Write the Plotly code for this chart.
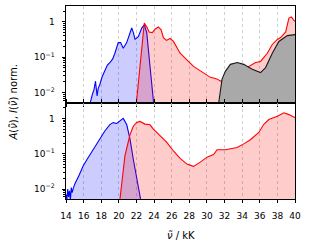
import plotly.graph_objects as go

# ---------------- data (wavenumber in kK, normalised intensities) -------------
top_blue_x = [16.72, 16.78, 17.0, 17.19, 17.35, 17.45, 17.53, 17.65, 17.84, 18.1, 18.41, 18.7, 18.98,
              19.3, 19.55, 19.75, 19.93, 20.20, 20.50, 20.89, 21.2, 21.46, 21.65, 21.84, 22.21, 22.60,
              22.89, 23.17, 23.54, 23.95]
top_blue_y = [0.004, 0.0055, 0.009, 0.0125, 0.021, 0.011, 0.008, 0.013, 0.017, 0.028, 0.041, 0.06, 0.07,
              0.09, 0.13, 0.19, 0.26, 0.26, 0.18, 0.26, 0.45, 0.67, 0.5, 0.32, 0.38, 0.67,
              0.83, 0.49, 0.055, 0.005]

top_red_x = [21.95, 22.89, 23.2, 23.43, 23.8, 24.1, 24.49, 24.8, 25.06, 25.4, 25.82, 26.2, 26.96, 27.73,
             28.1, 28.48, 28.9, 29.25, 29.6, 30.01, 30.39, 30.76, 31.2, 31.53, 32.09, 32.66, 33.43, 34.18,
             35.0, 35.32, 35.52, 36.09, 36.85, 37.42, 37.99, 38.37, 38.94, 39.31, 39.59, 39.88, 40.1]
top_red_y = [0.004, 0.93, 0.7, 0.52, 0.5, 0.62, 0.72, 0.6, 0.36, 0.3, 0.34, 0.28, 0.13, 0.087,
             0.068, 0.055, 0.047, 0.04, 0.036, 0.031, 0.027, 0.026, 0.024, 0.021, 0.025, 0.03, 0.035, 0.045,
             0.058, 0.063, 0.071, 0.076, 0.13, 0.23, 0.32, 0.36, 0.52, 1.28, 1.38, 1.1, 1.0]

top_gray_x = [31.33, 31.72, 32.09, 32.66, 33.43, 34.18, 35.14, 36.09, 36.66, 37.42, 38.17, 39.13, 40.1]
top_gray_y = [0.005, 0.024, 0.04, 0.063, 0.071, 0.063, 0.046, 0.037, 0.051, 0.13, 0.28, 0.41, 0.44]

bot_blue_x = [14.0, 14.1, 14.2, 14.3, 14.4, 14.5, 14.6, 14.7, 14.8, 15.0, 15.5, 15.94, 16.4, 16.9, 17.4,
              17.84, 18.41, 18.98, 19.36, 19.75, 20.12, 20.50, 20.89, 21.27, 21.64, 22.03, 22.48]
bot_blue_y = [0.007, 0.005, 0.01, 0.006, 0.009, 0.005, 0.011, 0.008, 0.01, 0.014, 0.025, 0.045, 0.07,
              0.11, 0.17, 0.25, 0.44, 0.67, 0.76, 0.72, 0.84, 1.0, 0.67, 0.26, 0.07, 0.019, 0.005]

bot_red_x = [20.12, 20.69, 21.27, 21.64, 22.03, 22.40, 22.97, 23.54, 23.92, 24.68, 25.45, 26.20, 26.96,
             27.73, 28.48, 29.25, 30.01, 30.76, 31.15, 32.09, 33.43, 34.18, 34.94, 35.89, 36.46, 37.03,
             37.99, 38.74, 39.31, 40.1]
bot_red_y = [0.005, 0.087, 0.35, 0.6, 0.77, 0.82, 0.69, 0.66, 0.5, 0.32, 0.21, 0.12, 0.074,
             0.051, 0.044, 0.058, 0.08, 0.095, 0.13, 0.13, 0.15, 0.19, 0.25, 0.40, 0.68, 0.93,
             1.15, 1.44, 1.28, 1.02]

x_ticks = [14, 16, 18, 20, 22, 24, 26, 28, 30, 32, 34, 36, 38, 40]
y_ticks = [0.01, 0.1, 1]
y_tick_text = ["10<sup>\u22122</sup>", "10<sup>\u22121</sup>", "1"]
y_minor = [m * 10.0 ** e for e in (-3, -2, -1, 0) for m in range(2, 10)]

BASE = 1e-5
FONT = "DejaVu Sans"

fig = go.Figure()


def add_area(x, y, fillcolor, linecolor, xa, ya):
    fig.add_trace(go.Scatter(
        x=[x[0]] + list(x) + [x[-1]], y=[BASE] + list(y) + [BASE],
        mode="lines", fill="toself", fillcolor=fillcolor,
        line=dict(width=0), xaxis=xa, yaxis=ya, hoverinfo="skip", showlegend=False))
    fig.add_trace(go.Scatter(
        x=x, y=y, mode="lines", line=dict(color=linecolor, width=1.1),
        xaxis=xa, yaxis=ya, showlegend=False))


BLUE_F = "rgba(0,0,255,0.2)"
RED_F = "rgba(255,0,0,0.2)"

add_area(top_blue_x, top_blue_y, BLUE_F, "#0000ff", "x", "y")
add_area(top_red_x, top_red_y, RED_F, "#ff0000", "x", "y")
add_area(top_gray_x, top_gray_y, "#a9a9a9", "#1a1a1a", "x", "y")

add_area(bot_blue_x, bot_blue_y, BLUE_F, "#0000ff", "x2", "y2")
add_area(bot_red_x, bot_red_y, RED_F, "#ff0000", "x2", "y2")

common_x = dict(range=[14, 40], tickvals=x_ticks, showgrid=True, gridcolor="#c4c4c4",
                griddash="dot", gridwidth=0.8, showline=True, linecolor="black", linewidth=1,
                ticks="outside", ticklen=3, tickcolor="black", zeroline=False,
                ticklabelstandoff=5,
                tickfont=dict(family=FONT, size=9, color="black"))
common_y = dict(type="log", range=[-2.28, 0.45], tickvals=y_ticks, ticktext=y_tick_text,
                showgrid=False, showline=True, linecolor="black", linewidth=1, mirror=True,
                ticks="outside", ticklen=3.5, tickcolor="black", zeroline=False,
                ticklabelstandoff=5,
                minor=dict(tickvals=y_minor, ticks="outside", ticklen=2, tickcolor="black"),
                tickfont=dict(family=FONT, size=9, color="black"))

fig.update_layout(
    width=330, height=249,
    margin=dict(l=66, r=35, t=6, b=50),
    paper_bgcolor="white", plot_bgcolor="white",
    font=dict(family=FONT, size=10, color="black"),
    xaxis=dict(**common_x, domain=[0, 1], anchor="y", showticklabels=False, mirror=True),
    yaxis=dict(**common_y, domain=[0.5, 1], anchor="x"),
    xaxis2=dict(**common_x, domain=[0, 1], anchor="y2", mirror="ticks", matches="x"),
    yaxis2=dict(**common_y, domain=[0, 0.5], anchor="x2"),
    annotations=[
        dict(text="<i>A</i>(<i>\u03bd\u0303</i>), <i>I</i>(<i>\u03bd\u0303</i>) norm.", textangle=-90,
             xref="paper", yref="paper", x=-0.231, y=0.5, xanchor="center", yanchor="middle",
             showarrow=False, font=dict(family=FONT, size=10)),
        dict(text="<i>\u03bd\u0303</i> / kK", xref="paper", yref="paper", x=0.5, y=-0.19,
             xanchor="center", yanchor="middle", showarrow=False, font=dict(family=FONT, size=10)),
    ],
)

fig.write_html("out.html", config={"displayModeBar": False, "staticPlot": True},
               post_script="document.body.style.margin='0';document.body.style.overflow='hidden';")
